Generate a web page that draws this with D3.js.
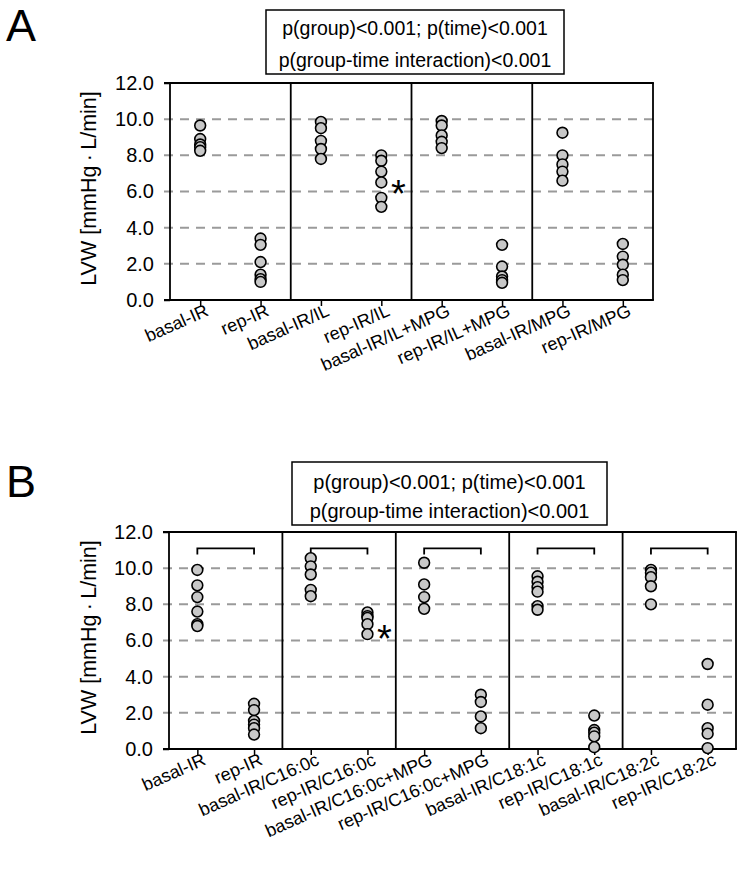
<!DOCTYPE html>
<html><head><meta charset="utf-8">
<script src="https://cdn.jsdelivr.net/npm/d3@7"></script>
<style>body{margin:0;background:#fff} text{font-family:"Liberation Sans",Arial,sans-serif;fill:#000}</style>
</head><body><svg id="c" width="742" height="875"></svg>
<script>
// ---------- data ----------
const categoriesA = ["basal-IR","rep-IR","basal-IR/IL","rep-IR/IL","basal-IR/IL+MPG","rep-IR/IL+MPG","basal-IR/MPG","rep-IR/MPG"];
const valuesA = [
  [9.65, 8.9, 8.6, 8.45, 8.25],
  [3.4, 3.05, 2.1, 1.4, 1.15, 1.0],
  [9.85, 9.5, 8.8, 8.35, 7.8],
  [8.0, 7.7, 7.1, 6.5, 5.65, 5.15],
  [9.9, 9.65, 9.1, 8.75, 8.4],
  [3.05, 1.85, 1.3, 1.1, 0.95],
  [9.25, 8.0, 7.5, 7.1, 6.6],
  [3.1, 2.4, 1.95, 1.4, 1.1]
];
const categoriesB = ["basal-IR","rep-IR","basal-IR/C16:0c","rep-IR/C16:0c","basal-IR/C16:0c+MPG","rep-IR/C16:0c+MPG","basal-IR/C18:1c","rep-IR/C18:1c","basal-IR/C18:2c","rep-IR/C18:2c"];
const valuesB = [
  [9.9, 9.05, 8.4, 7.6, 6.9, 6.8],
  [2.5, 2.15, 1.55, 1.35, 1.15, 0.8],
  [10.55, 10.1, 9.65, 8.8, 8.45],
  [7.55, 7.35, 7.25, 6.9, 6.35],
  [10.3, 9.1, 8.4, 7.75],
  [3.0, 2.6, 1.8, 1.15],
  [9.55, 9.25, 8.95, 8.7, 7.9, 7.7],
  [1.85, 1.05, 0.9, 0.7, 0.1],
  [9.9, 9.75, 9.5, 9.0, 8.0],
  [4.7, 2.45, 1.15, 0.85, 0.05]
];
const yTicks = [0, 2, 4, 6, 8, 10, 12];
const yDomain = [0, 12];
const statsLines = ["p(group)<0.001; p(time)<0.001", "p(group-time interaction)<0.001"];
const yLabel = "LVW [mmHg\u2009\u00b7\u2009L/min]";
const starCategoryA = "rep-IR/IL", starValueA = 6.4;
const starCategoryB = "rep-IR/C16:0c", starValueB = 6.6;
const bracketLevel = 11.1, bracketDrop = 10.75;

// ---------- drawing ----------
const svg = d3.select("#c");

function drawPanel(o) {
  const g = svg.append("g");
  const x = d3.scalePoint().domain(o.cats).range([o.x0, o.x1]).padding(0.5);
  const y = d3.scaleLinear().domain(yDomain).range([o.yBot, o.yTop]);
  const step = x.step();

  // panel letter
  svg.append("text").attr("x", o.letterX).attr("y", o.letterY)
    .attr("font-size", 45).text(o.letter);

  // gridlines (dashed) incl. the outward tick
  g.append("g").selectAll("line").data(yTicks.filter(t => t > yDomain[0] && t < yDomain[1]))
    .join("line")
    .attr("x1", o.x0 - 6).attr("x2", o.x1)
    .attr("y1", d => y(d)).attr("y2", d => y(d))
    .attr("stroke", "#9a9a9a").attr("stroke-width", 2).attr("stroke-dasharray", "9,7");

  // y axis
  const ya = g.append("g").attr("transform", `translate(${o.x0},0)`)
    .call(d3.axisLeft(y).tickValues(yTicks).tickFormat(d3.format(".1f")).tickSize(6).tickPadding(10));
  ya.select(".domain").remove();
  ya.selectAll(".tick line").attr("stroke", d => (d === 0 || d === 12) ? "#000" : "none").attr("stroke-width", 1.5);
  ya.selectAll(".tick text").attr("font-size", 20).attr("font-family", "Liberation Sans, Arial, sans-serif");

  // x axis
  const xa = g.append("g").attr("transform", `translate(0,${o.yBot})`)
    .call(d3.axisBottom(x).tickSize(6).tickSizeOuter(0));
  xa.select(".domain").remove();
  xa.selectAll(".tick line").attr("stroke-width", 1.5);
  xa.selectAll(".tick text")
    .attr("font-size", 18).attr("font-family", "Liberation Sans, Arial, sans-serif")
    .attr("text-anchor", "end").attr("x", 0).attr("y", 0).attr("dy", 0)
    .attr("transform", `translate(${o.lblDx},${o.lblDy}) rotate(${o.rot})`);

  // frame
  const fr = g.append("g").attr("stroke", "#000").attr("stroke-width", 1.8);
  fr.append("line").attr("x1", o.x0 - 6).attr("x2", o.x1 + 0.9).attr("y1", y(12)).attr("y2", y(12));
  fr.append("line").attr("x1", o.x0 - 6).attr("x2", o.x1 + 0.9).attr("y1", y(0)).attr("y2", y(0));
  fr.append("line").attr("x1", o.x0).attr("x2", o.x0).attr("y1", y(12)).attr("y2", y(0));
  fr.append("line").attr("x1", o.x1).attr("x2", o.x1).attr("y1", y(12)).attr("y2", y(0));
  // dividers between groups
  for (let i = 2; i < o.cats.length; i += 2) {
    const xd = x(o.cats[i]) - step / 2;
    fr.append("line").attr("x1", xd).attr("x2", xd).attr("y1", y(12)).attr("y2", y(0));
  }

  // brackets
  if (o.brackets) {
    for (let i = 0; i < o.cats.length; i += 2) {
      const xa1 = x(o.cats[i]), xa2 = x(o.cats[i + 1]);
      g.append("path")
        .attr("d", `M${xa1},${y(bracketDrop)}V${y(bracketLevel)}H${xa2}V${y(bracketDrop)}`)
        .attr("fill", "none").attr("stroke", "#000").attr("stroke-width", 1.8);
    }
  }

  // points
  const pts = [];
  o.cats.forEach((c, i) => o.vals[i].forEach(v => pts.push({c, v})));
  g.append("g").selectAll("circle").data(pts).join("circle")
    .attr("cx", d => x(d.c)).attr("cy", d => y(d.v)).attr("r", 5.4)
    .attr("fill", "#c8c8c8").attr("stroke", "#000").attr("stroke-width", 1.6);

  // asterisk
  g.append("text").attr("x", x(o.starCat) + 17).attr("y", y(o.starVal))
    .attr("dy", "0.6em").attr("text-anchor", "middle").attr("font-size", 38).text("*");

  // y label
  g.append("text").attr("transform", `translate(${o.ylabX},${(o.yTop + o.yBot) / 2 - 3}) rotate(-90)`)
    .attr("text-anchor", "middle").attr("font-size", 21.5).text(yLabel);

  // stats box
  g.append("rect").attr("x", o.box[0]).attr("y", o.box[1]).attr("width", o.box[2]).attr("height", o.box[3])
    .attr("fill", "#fff").attr("stroke", "#000").attr("stroke-width", 1.5);
  statsLines.forEach((t, i) => {
    g.append("text").attr("x", o.box[0] + o.box[2] / 2).attr("y", o.box[1] + o.boxBase[i])
      .attr("text-anchor", "middle").attr("font-size", o.boxFs).text(t);
  });
}

drawPanel({cats: categoriesA, vals: valuesA, x0: 170, x1: 653, yTop: 83, yBot: 300,
  letter: "A", letterX: 6, letterY: 41, starCat: starCategoryA, starVal: starValueA,
  brackets: false, ylabX: 96, box: [266, 10, 298, 64], boxBase: [25, 57], boxFs: 19.5,
  lblDx: 9, lblDy: 15, rot: -24});

drawPanel({cats: categoriesB, vals: valuesB, x0: 169, x1: 736, yTop: 532, yBot: 749,
  letter: "B", letterX: 6, letterY: 497, starCat: starCategoryB, starVal: starValueB,
  brackets: true, ylabX: 96, box: [292, 462, 315, 63], boxBase: [27, 56], boxFs: 20,
  lblDx: 9, lblDy: 15, rot: -24});
</script></body></html>
